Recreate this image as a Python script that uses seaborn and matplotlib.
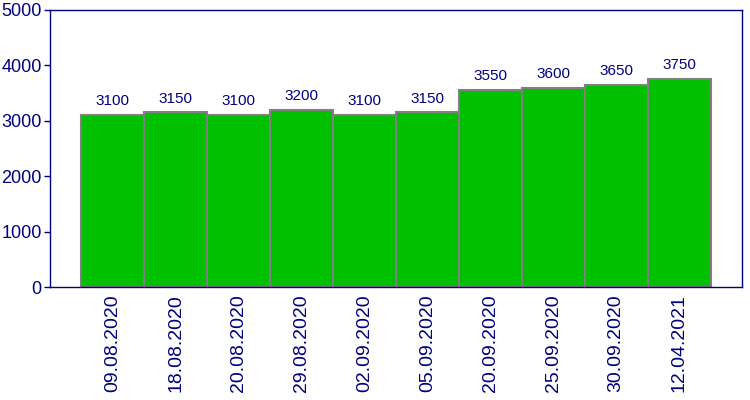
import matplotlib
matplotlib.use("Agg")
import matplotlib.pyplot as plt
import seaborn as sns
import pandas as pd

dates = ["09.08.2020", "18.08.2020", "20.08.2020", "29.08.2020", "02.09.2020",
         "05.09.2020", "20.09.2020", "25.09.2020", "30.09.2020", "12.04.2021"]
values = [3100, 3150, 3100, 3200, 3100, 3150, 3550, 3600, 3650, 3750]

navy = "#000080"

sns.set_style("white")
plt.rcParams["font.family"] = ["Liberation Sans", "DejaVu Sans"]

df = pd.DataFrame({"date": dates, "value": values})

fig = plt.figure(figsize=(7.5, 4), dpi=100)
ax = fig.add_axes([50 / 750, 1 - 287 / 400, 692 / 750, 277 / 400])

sns.barplot(data=df, x="date", y="value", color="#00c000", saturation=1,
            width=1, edgecolor="#808080", linewidth=1.5, ax=ax)

ax.bar_label(ax.containers[0], labels=[str(v) for v in values],
             padding=5, fontsize=11, color=navy)

ax.set_xlim(-1, 10)
ax.set_ylim(0, 5000)
ax.set_yticks([0, 1000, 2000, 3000, 4000, 5000])
ax.set_xlabel("")
ax.set_ylabel("")

ax.tick_params(axis="y", length=4, width=1, color=navy, labelcolor=navy,
               labelsize=13, pad=2, left=True)
ax.tick_params(axis="x", length=0, labelcolor=navy, labelsize=14,
               labelrotation=90, pad=5)

for s in ax.spines.values():
    s.set_color(navy)
    s.set_linewidth(1)

fig.savefig("out.png", dpi=100)
